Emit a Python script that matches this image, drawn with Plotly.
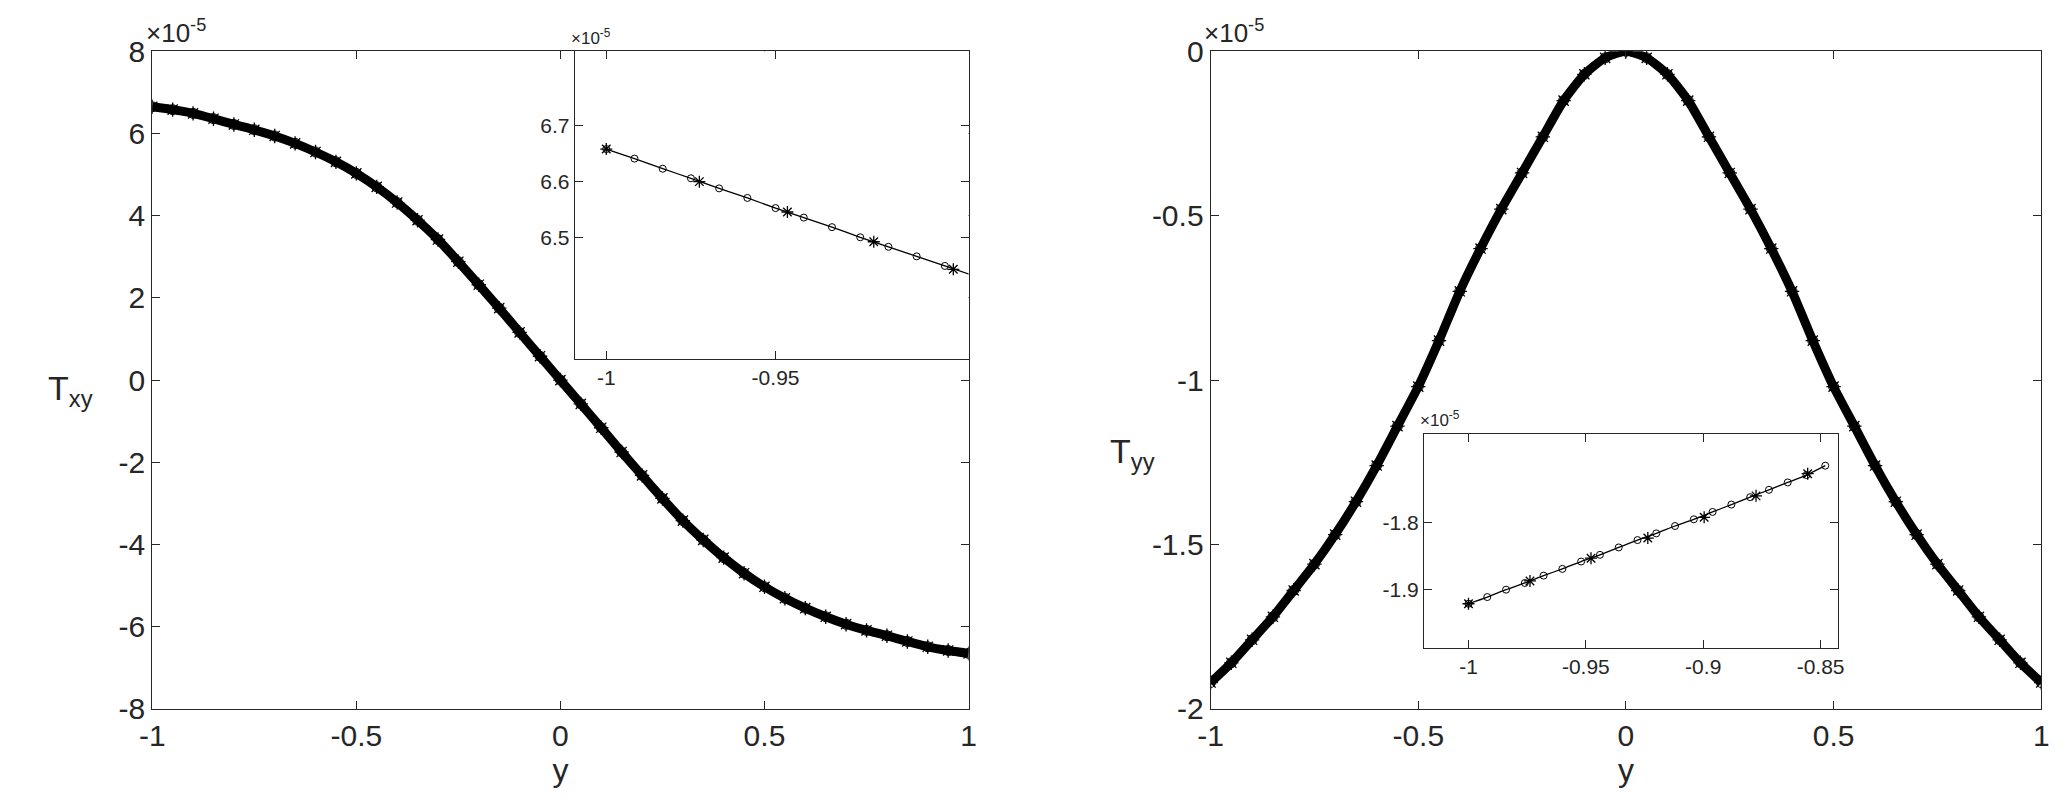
import plotly.graph_objects as go

# main curves, values in units of 1e-5
y_grid = [-1.0, -0.95, -0.9, -0.85, -0.8, -0.75, -0.7, -0.65, -0.6, -0.55, -0.5,
          -0.45, -0.4, -0.35, -0.3, -0.25, -0.2, -0.15, -0.1, -0.05, 0.0,
          0.05, 0.1, 0.15, 0.2, 0.25, 0.3, 0.35, 0.4, 0.45, 0.5,
          0.55, 0.6, 0.65, 0.7, 0.75, 0.8, 0.85, 0.9, 0.95, 1.0]
txy = [6.65, 6.58, 6.49, 6.36, 6.22, 6.09, 5.94, 5.76, 5.55, 5.31, 5.03,
       4.70, 4.32, 3.89, 3.42, 2.88, 2.32, 1.75, 1.16, 0.58, 0.0,
       -0.58, -1.16, -1.75, -2.32, -2.88, -3.42, -3.89, -4.32, -4.70, -5.03,
       -5.31, -5.55, -5.76, -5.94, -6.09, -6.22, -6.36, -6.49, -6.58, -6.65]
tyy = [-1.92, -1.86, -1.79, -1.72, -1.64, -1.56, -1.47, -1.37, -1.26, -1.14, -1.02,
       -0.88, -0.73, -0.60, -0.48, -0.37, -0.26, -0.15, -0.07, -0.02, 0.0,
       -0.02, -0.07, -0.15, -0.26, -0.37, -0.48, -0.60, -0.73, -0.88, -1.02,
       -1.14, -1.26, -1.37, -1.47, -1.56, -1.64, -1.72, -1.79, -1.86, -1.92]

# inset of Txy near y=-1
txy_in_y = [-1.0, -0.99167, -0.98333, -0.975, -0.96667, -0.95833, -0.95, -0.94167,
            -0.93333, -0.925, -0.91667, -0.90833, -0.9, -0.89167]
txy_in_v = [6.658, 6.641, 6.623, 6.606, 6.588, 6.571, 6.553, 6.536,
            6.519, 6.501, 6.484, 6.467, 6.450, 6.433]
txy_star_y = [-1.0, -0.9725, -0.9465, -0.921, -0.8975]
txy_star_v = [6.658, 6.600, 6.546, 6.493, 6.444]

# inset of Tyy near y=-1
tyy_in_y = [-1.0, -0.992, -0.984, -0.976, -0.968, -0.96, -0.952, -0.944, -0.936, -0.928,
            -0.92, -0.912, -0.904, -0.896, -0.888, -0.88, -0.872, -0.864, -0.856, -0.848]
tyy_in_v = [-1.921, -1.911, -1.900, -1.890, -1.879, -1.869, -1.858, -1.848, -1.837, -1.826,
            -1.816, -1.805, -1.795, -1.784, -1.773, -1.762, -1.751, -1.740, -1.729, -1.715]
tyy_star_y = [-1.0, -0.9738, -0.9478, -0.9236, -0.8996, -0.8775, -0.8555]
tyy_star_v = [-1.921, -1.887, -1.853, -1.823, -1.792, -1.760, -1.727]

FONT = "Liberation Sans, Arial, sans-serif"
INK = "#262626"

fig = go.Figure()


def curve(x, v, xa, ya, width, circ):
    fig.add_trace(go.Scatter(x=x, y=v, xaxis=xa, yaxis=ya, mode="lines+markers",
                             line=dict(color="black", width=width, shape="spline", smoothing=0.6),
                             marker=dict(symbol="circle-open", size=circ, color="black",
                                         line=dict(width=1)),
                             showlegend=False))


def stars(x, v, xa, ya, size):
    fig.add_trace(go.Scatter(x=x, y=v, xaxis=xa, yaxis=ya, mode="markers",
                             marker=dict(symbol="asterisk-open", size=size, color="black",
                                         line=dict(width=1.3, color="black")),
                             showlegend=False))


curve(y_grid, txy, "x", "y", 9, 10)
stars(y_grid, txy, "x", "y", 12)
curve(y_grid, tyy, "x2", "y2", 9, 10)
stars(y_grid, tyy, "x2", "y2", 12)
curve(txy_in_y, txy_in_v, "x3", "y3", 1.3, 7)
stars(txy_star_y, txy_star_v, "x3", "y3", 10)
curve(tyy_in_y, tyy_in_v, "x4", "y4", 1.3, 7)
stars(tyy_star_y, tyy_star_v, "x4", "y4", 10)


def lab(vals):
    return ["%g" % v for v in vals]


def ax(domain, rng, tickvals, anchor, size):
    return dict(domain=domain, range=rng, tickvals=tickvals, ticktext=lab(tickvals),
                anchor=anchor, showline=True, mirror="ticks", linecolor=INK,
                linewidth=1, ticks="inside", ticklen=8, tickcolor=INK,
                showgrid=False, zeroline=False,
                tickfont=dict(family=FONT, size=size, color=INK))


xt = [-1, -0.5, 0, 0.5, 1]
fig.update_layout(
    width=2072, height=812, paper_bgcolor="white", plot_bgcolor="white",
    margin=dict(l=0, r=0, t=0, b=0),
    xaxis=ax([0.064, 0.462], [-1, 1], xt, "y", 30),
    yaxis=ax([0.122, 0.965], [-8, 8], [-8, -6, -4, -2, 0, 2, 4, 6, 8], "x", 30),
    xaxis2=ax([0.580, 0.985], [-1, 1], xt, "y2", 30),
    yaxis2=ax([0.122, 0.965], [-2, 0], [-2, -1.5, -1, -0.5, 0], "x2", 30),
    xaxis3=ax([0.270, 0.462], [-1.0093, -0.893], [-1, -0.95], "y3", 21),
    yaxis3=ax([0.571, 0.965], [6.285, 6.832], [6.5, 6.6, 6.7], "x3", 21),
    xaxis4=ax([0.684, 0.886], [-1.019, -0.8425], [-1, -0.95, -0.9, -0.85], "y4", 21),
    yaxis4=ax([0.200, 0.475], [-1.987, -1.667], [-1.9, -1.8], "x4", 21),
)
for k in ("xaxis", "xaxis2"):
    fig.layout[k].title = dict(text="y", font=dict(family=FONT, size=32, color=INK), standoff=4)

ann = [
    dict(x=0.060, y=0.967, text="×10<sup>-5</sup>", size=26),
    dict(x=0.576, y=0.967, text="×10<sup>-5</sup>", size=26),
    dict(x=0.267, y=0.967, text="×10<sup>-5</sup>", size=17),
    dict(x=0.681, y=0.477, text="×10<sup>-5</sup>", size=17),
]
for a in ann:
    fig.add_annotation(x=a["x"], y=a["y"], xref="paper", yref="paper", text=a["text"],
                       showarrow=False, xanchor="left", yanchor="bottom",
                       font=dict(family=FONT, size=a["size"], color=INK))
for x, y, t in [(0.012, 0.53, "T<sub>xy</sub>"), (0.530, 0.45, "T<sub>yy</sub>")]:
    fig.add_annotation(x=x, y=y, xref="paper", yref="paper", text=t, showarrow=False,
                       xanchor="left", yanchor="middle",
                       font=dict(family=FONT, size=34, color=INK))

fig.write_html("out.html")
